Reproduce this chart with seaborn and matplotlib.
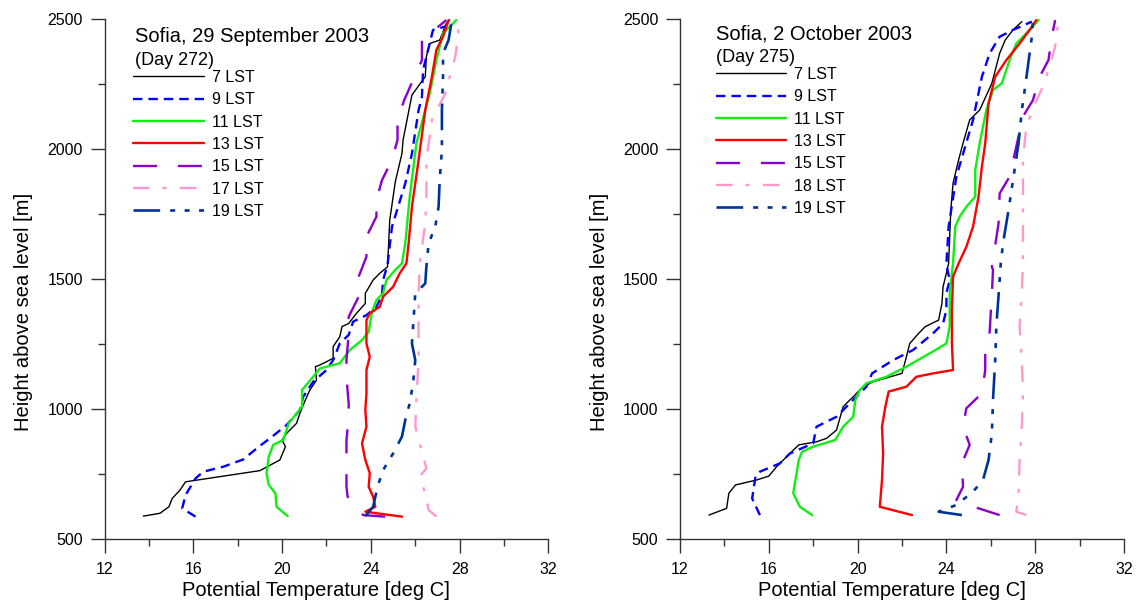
import matplotlib
matplotlib.use("Agg")
import matplotlib.pyplot as plt
import seaborn as sns
import numpy as np
from matplotlib.ticker import MultipleLocator

# ---------------- data: Day 272 (29 September 2003) ----------------
t07_272 = [13.75, 14.5, 14.9, 15.05, 15.4, 15.65, 19.0, 19.9, 20.15, 20.0, 20.2, 20.65, 20.8, 21.05, 21.25,
           21.55, 21.5, 21.7, 22.3, 22.3, 22.6, 22.7, 23.0, 23.35, 23.75, 23.75, 24.1, 24.4, 24.75, 24.85,
           25.1, 25.4, 25.45, 25.85, 26.45, 26.5, 26.65, 27.1, 27.4, 27.55]
h07_272 = [588, 599, 624, 656, 688, 720, 763, 804, 855, 881, 906, 945, 983, 1035, 1073,
           1111, 1163, 1169, 1195, 1240, 1278, 1317, 1329, 1368, 1406, 1445, 1496, 1522, 1547, 1727,
           1874, 1983, 2035, 2208, 2278, 2355, 2406, 2419, 2483, 2496]

t09_272 = [16.1, 15.5, 15.65, 16.1, 16.45, 17.35, 18.25, 18.95, 19.45, 20.2, 20.8, 20.95, 21.4, 22.0, 22.3,
           22.6, 23.0, 23.2, 23.8, 24.25, 24.5, 24.55, 24.75, 24.95, 25.55, 25.85, 26.15, 26.3, 26.35, 26.65,
           26.8, 27.35, 27.55]
h09_272 = [586, 618, 669, 733, 759, 778, 806, 855, 887, 938, 996, 1047, 1105, 1150, 1188,
           1252, 1285, 1336, 1361, 1393, 1438, 1496, 1555, 1701, 1868, 1983, 2150, 2201, 2304, 2406,
           2458, 2471, 2496]

t11_272 = [20.25, 19.75, 19.7, 19.4, 19.3, 19.4, 19.6, 20.05, 20.3, 20.9, 20.9, 21.4, 21.7, 22.6, 23.05,
           23.6, 23.9, 24.05, 24.25, 24.55, 24.7, 25.1, 25.4, 25.55, 25.75, 26.05, 26.45, 26.65, 26.95, 27.25,
           27.85]
h11_272 = [588, 624, 676, 708, 753, 817, 862, 881, 945, 1009, 1073, 1124, 1156, 1176, 1227,
           1265, 1297, 1374, 1419, 1445, 1496, 1535, 1560, 1637, 1817, 2022, 2150, 2214, 2342, 2445,
           2496]

t13_272 = [25.4, 23.75, 24.2, 24.1, 23.9, 23.95, 23.75, 23.6, 23.8, 23.75, 23.8, 23.8, 23.95, 23.8, 23.8,
           23.95, 24.4, 24.55, 25.0, 25.3, 25.6, 25.7, 25.85, 26.15, 26.45, 26.75, 26.95, 27.25, 27.5]
h13_272 = [586, 605, 624, 663, 701, 753, 804, 868, 932, 996, 1060, 1150, 1201, 1252, 1342,
           1368, 1393, 1432, 1470, 1522, 1560, 1637, 1778, 1958, 2150, 2278, 2381, 2432, 2496]

t15_272 = [24.65, 23.65, 22.95, 22.9, 22.9, 22.9, 23.0, 23.0, 22.9, 22.9, 23.0, 23.0, 23.45, 23.45, 23.8,
           23.8, 24.25, 24.25, 24.5, 24.95, 25.2, 25.2, 25.5, 25.9, 26.3, 26.3, 27.4]
h15_272 = [586, 592, 663, 701, 830, 880, 970, 1020, 1124, 1188, 1291, 1355, 1432, 1509, 1586,
           1663, 1740, 1804, 1880, 1958, 2035, 2112, 2188, 2265, 2342, 2419, 2496]

t17_272 = [26.95, 26.6, 26.45, 26.2, 26.5, 26.15, 26.0, 26.05, 26.15, 26.15, 26.15, 26.2, 26.45, 26.5, 26.5,
           26.75, 27.35, 27.8, 27.95, 27.85]
h17_272 = [586, 612, 676, 740, 772, 881, 932, 1035, 1188, 1342, 1445, 1560, 1714, 1817, 1958,
           2112, 2214, 2355, 2445, 2496]

t19_272 = [23.75, 24.1, 24.2, 24.35, 24.55, 25.0, 25.4, 25.55, 25.75, 25.9, 26.0, 25.85, 26.0, 26.45, 26.5,
           26.6, 26.9, 27.05, 27.1, 27.2, 27.2, 27.25, 27.25, 27.5, 27.65]
h19_272 = [588, 624, 663, 714, 765, 829, 894, 958, 1022, 1099, 1188, 1252, 1445, 1483, 1547,
           1637, 1701, 1778, 1881, 1996, 2150, 2278, 2368, 2419, 2496]

# ---------------- data: Day 275 (2 October 2003) ----------------
t07_275 = [13.3, 14.1, 14.2, 14.5, 15.45, 16.0, 16.35, 16.95, 17.35, 18.15, 18.6, 19.05, 19.35, 19.8, 20.25,
           20.7, 22.0, 22.2, 22.35, 22.75, 23.05, 23.65, 23.8, 23.85, 24.0, 24.1, 24.2, 24.3, 24.55, 24.75,
           25.05, 25.5, 26.05, 26.4, 26.65, 27.0, 27.4]
h07_275 = [592, 618, 676, 708, 727, 742, 778, 829, 862, 874, 887, 919, 1009, 1047, 1086,
           1105, 1137, 1201, 1252, 1291, 1317, 1342, 1406, 1470, 1522, 1560, 1765, 1868, 1958, 2022,
           2112, 2150, 2253, 2368, 2419, 2458, 2490]

t09_275 = [15.6, 15.25, 15.4, 15.6, 16.5, 16.95, 18.0, 18.15, 19.05, 19.8, 20.4, 20.65, 21.6, 22.5, 23.4,
           23.85, 24.0, 24.0, 24.15, 24.0, 24.1, 24.45, 25.2, 25.6, 25.95, 26.4, 27.0, 27.85]
h09_275 = [592, 656, 740, 759, 791, 829, 868, 932, 970, 1035, 1086, 1137, 1188, 1227, 1291,
           1329, 1381, 1445, 1496, 1555, 1701, 1894, 2112, 2278, 2368, 2432, 2458, 2490]

t11_275 = [17.95, 17.4, 17.1, 17.2, 17.35, 17.5, 18.0, 19.0, 19.35, 19.8, 19.9, 20.1, 20.4, 21.3, 22.2,
           23.25, 24.0, 24.15, 24.15, 24.3, 24.4, 24.6, 24.9, 25.3, 25.3, 25.5, 25.8, 26.1, 26.5, 26.85,
           27.15, 27.75, 28.15]
h11_275 = [592, 624, 676, 727, 804, 836, 855, 881, 932, 970, 1035, 1073, 1099, 1124, 1163,
           1214, 1252, 1317, 1445, 1560, 1701, 1740, 1778, 1817, 1919, 2022, 2150, 2227, 2253, 2342,
           2406, 2458, 2496]

t13_275 = [22.45, 21.0, 21.1, 21.15, 21.1, 21.25, 21.4, 22.2, 22.65, 23.4, 24.3, 24.25, 24.25, 24.3, 24.55,
           24.9, 25.2, 25.45, 25.6, 25.75, 25.9, 26.2, 26.7, 27.3, 27.75, 28.05]
h13_275 = [592, 624, 727, 829, 932, 1009, 1067, 1086, 1124, 1137, 1150, 1252, 1381, 1509, 1560,
           1624, 1701, 1817, 1932, 2022, 2176, 2278, 2342, 2406, 2458, 2496]

t15_275 = [26.4, 25.45, 24.45, 24.75, 24.7, 25.05, 24.75, 24.9, 25.6, 25.75, 25.75, 25.95, 26.05, 26.1, 26.05,
           26.35, 26.4, 26.85, 27.45, 27.9, 28.2, 28.6, 28.75, 28.9]
h15_275 = [592, 618, 650, 701, 791, 862, 932, 1003, 1060, 1150, 1227, 1297, 1445, 1535, 1547,
           1714, 1829, 1894, 2125, 2188, 2278, 2342, 2432, 2496]

t18_275 = [27.6, 27.15, 27.25, 27.3, 27.4, 27.45, 27.4, 27.3, 27.4, 27.45, 27.45, 27.45, 27.6, 28.0, 28.35,
           28.65, 28.9, 29.05]
h18_275 = [592, 605, 676, 804, 932, 1060, 1188, 1317, 1445, 1573, 1765, 1958, 2086, 2176, 2240,
           2317, 2394, 2496]

t19_275 = [24.7, 23.65, 24.45, 25.2, 25.65, 25.9, 26.05, 26.1, 26.2, 26.25, 26.4, 26.45, 26.55, 26.8, 27.25,
           27.4, 27.55, 27.75, 27.85, 27.9]
h19_275 = [592, 605, 631, 682, 727, 804, 906, 1035, 1188, 1317, 1496, 1560, 1637, 1765, 2022,
           2150, 2240, 2368, 2432, 2496]

labels_272 = ["7 LST", "9 LST", "11 LST", "13 LST", "15 LST", "17 LST", "19 LST"]
labels_275 = ["7 LST", "9 LST", "11 LST", "13 LST", "15 LST", "18 LST", "19 LST"]
titles = ["Sofia, 29 September 2003", "Sofia, 2 October 2003"]
days = ["(Day 272)", "(Day 275)"]
x_ticks = [12, 16, 20, 24, 28, 32]
y_ticks = [500, 1000, 1500, 2000, 2500]

# ---------------- styles ----------------
colors = ["#000000", "#0000ff", "#11ee11", "#ff0000", "#8b00cc", "#ff99cc", "#003399"]
widths = [1.0, 1.7, 1.7, 1.7, 1.7, 1.7, 1.9]
styles = ["-", (0, (6.8, 4.3)), "-", "-", (0, (17.3, 15.0)), (0, (12.0, 9.2, 2.9, 9.6)),
          (0, (19.2, 7.2, 3.6, 6.8, 3.6, 6.8, 3.6, 7.2))]

sns.set_theme(style="ticks")
plt.rcParams["font.family"] = ["Liberation Sans", "DejaVu Sans"]
plt.rcParams["lines.scale_dashes"] = False
plt.rcParams["text.color"] = "black"
plt.rcParams["axes.labelcolor"] = "black"
plt.rcParams["xtick.color"] = "#333333"
plt.rcParams["ytick.color"] = "#333333"
plt.rcParams["xtick.labelcolor"] = "black"
plt.rcParams["ytick.labelcolor"] = "black"

fig = plt.figure(figsize=(11.36, 6.04), dpi=100)
ax1 = fig.add_axes([0.0920, 0.1076, 0.3908, 0.8609])
ax2 = fig.add_axes([0.5986, 0.1076, 0.3908, 0.8609])

panels = [
    (ax1, [(t07_272, h07_272), (t09_272, h09_272), (t11_272, h11_272), (t13_272, h13_272),
           (t15_272, h15_272), (t17_272, h17_272), (t19_272, h19_272)], labels_272),
    (ax2, [(t07_275, h07_275), (t09_275, h09_275), (t11_275, h11_275), (t13_275, h13_275),
           (t15_275, h15_275), (t18_275, h18_275), (t19_275, h19_275)], labels_275),
]

title_pos = [(0.069, 0.955, 0.912, 0.902, 0.065), (0.081, 0.961, 0.918, 0.908, 0.080)]

for i, (ax, series, labels) in enumerate(panels):
    for (t, h), lab, c, lw, ls in zip(series, labels, colors, widths, styles):
        sns.lineplot(x=t, y=h, sort=False, estimator=None, ax=ax, color=c,
                     linewidth=lw, linestyle=ls, label=lab, legend=False)
    ax.set_xlim(12, 32)
    ax.set_ylim(500, 2500)
    ax.set_xticks(x_ticks)
    ax.set_yticks(y_ticks)
    ax.xaxis.set_minor_locator(MultipleLocator(2))
    ax.yaxis.set_minor_locator(MultipleLocator(250))
    ax.tick_params(which="major", length=10, width=1.0, color="#333333", labelsize=11.5,
                   labelcolor="black", direction="out")
    ax.tick_params(axis="x", which="major", pad=6.5)
    ax.tick_params(axis="y", which="major", pad=5.5)
    ax.tick_params(which="minor", length=5, width=1.0, color="#333333", direction="out")
    for sp in ["top", "right"]:
        ax.spines[sp].set_visible(False)
    for sp in ["left", "bottom"]:
        ax.spines[sp].set_color("#333333")
        ax.spines[sp].set_linewidth(1.0)
    ax.set_xlabel("Potential Temperature [deg C]", fontsize=14.5, color="black")
    ax.set_ylabel("Height above sea level [m]", fontsize=14.5, color="black")
    ax.xaxis.set_label_coords(0.477, -0.081)
    ax.yaxis.set_label_coords(-0.160, 0.4365)
    ax.grid(False)

    tx, ty1, ty2, ly, lx = title_pos[i]
    ax.text(tx, ty1, titles[i], transform=ax.transAxes, fontsize=14.5, va="baseline", ha="left",
            color="black")
    ax.text(tx, ty2, days[i], transform=ax.transAxes, fontsize=13, va="baseline", ha="left",
            color="black")
    leg = ax.legend(loc="upper left", bbox_to_anchor=(lx, ly), frameon=False, fontsize=11.5,
                    handlelength=4.4, handletextpad=0.5, labelspacing=0.46, borderpad=0,
                    borderaxespad=0)
    for txt in leg.get_texts():
        txt.set_color("black")

fig.savefig("out.png", dpi=100)
